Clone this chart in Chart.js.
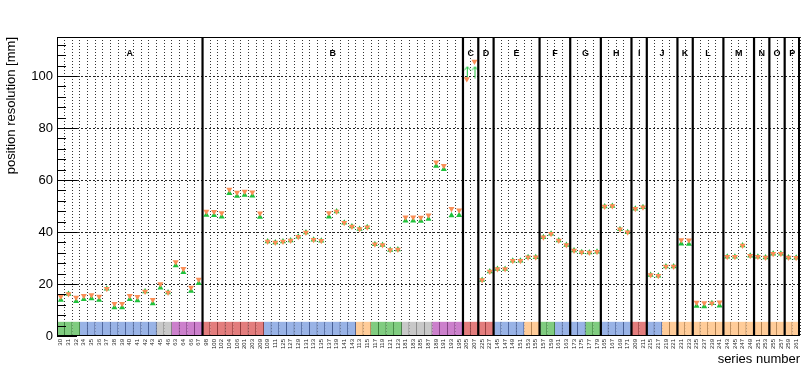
<!DOCTYPE html>
<html><head><meta charset="utf-8">
<script src="https://cdn.jsdelivr.net/npm/chart.js@4/dist/chart.umd.min.js"></script>
<style>html,body{margin:0;padding:0;background:#fff}</style>
</head><body>
<canvas id="c" width="809" height="374"></canvas>
<script>
// ---------- data ----------
const sectionNames = ['A','B','C','D','E','F','G','H','I','J','K','L','M','N','O','P'];
const sectionSizes = [19,34,2,2,6,4,4,4,2,4,2,4,4,2,2,2];
const seriesLabels = [
  '30','31','32','34','35','36','37','38','39','40','41','42','43','45','46','63','64','66','67',
  '98','100','102','104','106','201','203','209','109','111','125','127','129','131','133','135','137','139','141','143','113','115','117','119','121','123','181','183','185','187','189','191','193','195',
  '205','207',
  '225','227',
  '145','147','149','151','153','155',
  '157','159','161','163',
  '173','175','177','179',
  '165','167','169','171',
  '209','211',
  '215','217','219','221',
  '231','233',
  '235','237','239','241',
  '243','245','247','249',
  '251','253',
  '255','257',
  '259','261'
];
// colour group of each series: g=green b=blue k=grey p=purple r=red o=orange
const colorGroups = (
  'gggbbbbbbbbbbkkpppp' +
  'rrrrrrrrbbbbbbbbbbbbooggggkkkkpppp' +
  'rr' + 'rr' + 'bbbboo' + 'ggbb' + 'bbgg' + 'bbbb' + 'rr' + 'bboo' + 'oo' + 'oooo' + 'oooo' + 'oo' + 'oo' + 'oo'
).split('');
const orangeValues = [
  15.2,16.2,14.8,15.5,15.8,15.2,18.2,12.4,12.4,15.5,15.1,17.1,13.9,20.0,16.7,28.5,25.9,18.7,21.7,
  47.9,47.8,47.3,56.3,55.2,55.6,55.3,47.2,36.3,36.0,36.3,36.7,38.2,39.8,37.0,36.6,47.3,47.9,43.6,42.1,41.2,41.8,35.3,35.0,33.1,33.3,45.7,45.7,45.6,46.4,66.8,65.5,48.9,48.4,
  98.8,105.6,
  21.5,24.8,
  25.8,25.8,28.9,28.9,30.3,30.3,
  38.0,39.3,36.7,35.0,
  32.9,32.2,32.1,32.4,
  49.8,50.0,41.1,39.9,
  48.9,49.5,
  23.5,23.2,26.7,26.7,
  36.9,36.8,
  12.9,12.7,12.6,13.0,
  30.5,30.5,34.8,30.9,
  30.5,30.2,
  31.6,31.6,
  30.2,30.1
];
const greenValues = [
  13.8,16.2,13.4,14.1,14.4,13.8,18.2,11.0,11.0,14.1,13.7,17.1,12.5,18.6,16.7,27.1,24.5,17.3,20.3,
  46.5,46.4,45.9,54.9,53.8,54.2,53.9,45.8,36.3,36.0,36.3,36.7,38.2,39.8,37.0,36.6,45.9,47.9,43.6,42.1,41.2,41.8,35.3,35.0,33.1,33.3,44.3,44.3,44.2,45.0,65.4,64.1,46.3,46.4,
  101.5,101.5,
  21.5,24.8,
  25.8,25.8,28.9,28.9,30.3,30.3,
  38.0,39.3,36.7,35.0,
  32.9,32.2,32.1,32.4,
  49.8,50.0,41.1,39.9,
  48.9,49.5,
  23.5,23.2,26.7,26.7,
  35.5,35.4,
  11.5,11.3,12.6,11.6,
  30.5,30.5,34.8,30.9,
  30.5,30.2,
  31.6,31.6,
  30.2,30.1
];
// green points drawn as upward arrows (lower limits)
const greenIsLimit = seriesLabels.map((l,i)=> i===53 || i===54);
const bandHeight = 5.5;

// ---------- styles ----------
const fillCol = {g:'#80cc80', b:'#99b3e6', k:'#c8c8c8', p:'#cc80cc', r:'#e37d7d', o:'#ffcc99'};
const edgeCol = {g:'#2d6b2d', b:'#334a80', k:'#707070', p:'#6b2d6b', r:'#7a2a2a', o:'#9a6a3a'};
const ORANGE = '#fa8f57', GREEN = '#1ec23c';

const arrow = document.createElement('canvas');
arrow.width = 8; arrow.height = 13;
(function(){
  const c = arrow.getContext('2d');
  c.strokeStyle = GREEN; c.lineWidth = 1;
  c.beginPath(); c.moveTo(4.5,12.5); c.lineTo(4.5,1); c.stroke();
  c.beginPath(); c.moveTo(1.5,4.5); c.lineTo(4.5,1); c.lineTo(7.5,4.5); c.stroke();
})();

const overlay = {
  id:'overlay',
  afterDatasetsDraw(chart){
    const {ctx, chartArea:a, scales:{x,y}} = chart;
    ctx.save();
    ctx.strokeStyle = '#000'; ctx.lineWidth = 1;
    // y ticks inside frame
    for (let v = 0; v <= y.max; v += 4) {
      const py = Math.round(y.getPixelForValue(v)) + 0.5;
      const len = (v % 20 === 0) ? 20 : 9;
      ctx.beginPath(); ctx.moveTo(a.left, py); ctx.lineTo(a.left + len, py); ctx.stroke();
    }
    // section separators + labels
    let start = 0;
    ctx.font = 'bold 9px "Liberation Sans", Arial, sans-serif';
    ctx.fillStyle = '#000'; ctx.textAlign = 'center'; ctx.textBaseline = 'middle';
    sectionSizes.forEach((n, s) => {
      const end = start + n;
      const left = start === 0 ? a.left : (x.getPixelForValue(start-1) + x.getPixelForValue(start)) / 2;
      const right = end >= seriesLabels.length ? a.right : (x.getPixelForValue(end-1) + x.getPixelForValue(end)) / 2;
      ctx.fillText(sectionNames[s], (left + right) / 2, y.getPixelForValue(108.5));
      if (end < seriesLabels.length) {
        ctx.lineWidth = 2.2;
        ctx.beginPath(); ctx.moveTo(right, a.top); ctx.lineTo(right, a.bottom); ctx.stroke();
      }
      start = end;
    });
    // frame
    ctx.lineWidth = 1;
    ctx.strokeRect(a.left + 0.5, a.top + 0.5, a.width - 1, a.height - 1);
    ctx.lineWidth = 2;
    ctx.beginPath(); ctx.moveTo(a.right - 1, a.top); ctx.lineTo(a.right - 1, a.bottom); ctx.stroke();
    ctx.restore();
  }
};

const FONT = '"Liberation Sans", Arial, sans-serif';

new Chart(document.getElementById('c'), {
  data: {
    labels: seriesLabels,
    datasets: [
      {
        type: 'line', label: 'orange', data: orangeValues, showLine: false, order: 1,
        pointStyle: 'triangle', pointRotation: 180,
        pointRadius: 3.5, pointBackgroundColor: ORANGE, pointBorderColor: ORANGE, pointBorderWidth: 0,
        pointHoverRadius: 3.5
      },
      {
        type: 'line', label: 'green', data: greenValues, showLine: false, order: 2,
        pointStyle: greenIsLimit.map(f => f ? arrow : 'triangle'),
        pointRadius: 3.5, pointBackgroundColor: GREEN, pointBorderColor: GREEN, pointBorderWidth: 0,
        pointHoverRadius: 3.5
      },
      {
        type: 'bar', label: 'band', data: seriesLabels.map(() => bandHeight), order: 3,
        backgroundColor: colorGroups.map(g => fillCol[g]),
        borderColor: colorGroups.map(g => edgeCol[g]),
        borderWidth: {left: 0, right: 1, top: 0, bottom: 0},
        borderSkipped: false,
        categoryPercentage: 1, barPercentage: 1
      }
    ]
  },
  options: {
    responsive: false, animation: false,
    layout: {padding: {top: 37, right: 9, left: 0, bottom: 0}},
    plugins: {legend: {display: false}, tooltip: {enabled: false}},
    scales: {
      x: {
        type: 'category', offset: true,
        grid: {offset: true, drawTicks: false, color: '#333', lineWidth: 1},
        border: {display: false, dash: [1,2]},
        ticks: {autoSkip: false, minRotation: 90, maxRotation: 90, padding: 3,
                font: {family: FONT, size: 6}, color: '#222'},
        title: {display: true, text: 'series number', align: 'end',
                font: {family: FONT, size: 13}, color: '#000', padding: {top: 0, bottom: 7}},
        afterFit(s){ s.height = 38; }
      },
      y: {
        min: 0, max: 115,
        ticks: {stepSize: 20, padding: 4, font: {family: FONT, size: 13}, color: '#000',
                callback: v => (v % 20 === 0 ? v : '')},
        grid: {drawTicks: false, lineWidth: 1,
               color: c => (c.tick && c.tick.value % 20 === 0 && c.tick.value > 0) ? '#222' : 'rgba(0,0,0,0)'},
        border: {display: false, dash: [2,2]},
        title: {display: true, text: 'position resolution [mm]', align: 'end',
                font: {family: FONT, size: 13}, color: '#000', padding: {top: 4, bottom: 0}},
        afterFit(s){ s.width = 57; }
      }
    }
  },
  plugins: [overlay]
});
</script>
</body></html>
